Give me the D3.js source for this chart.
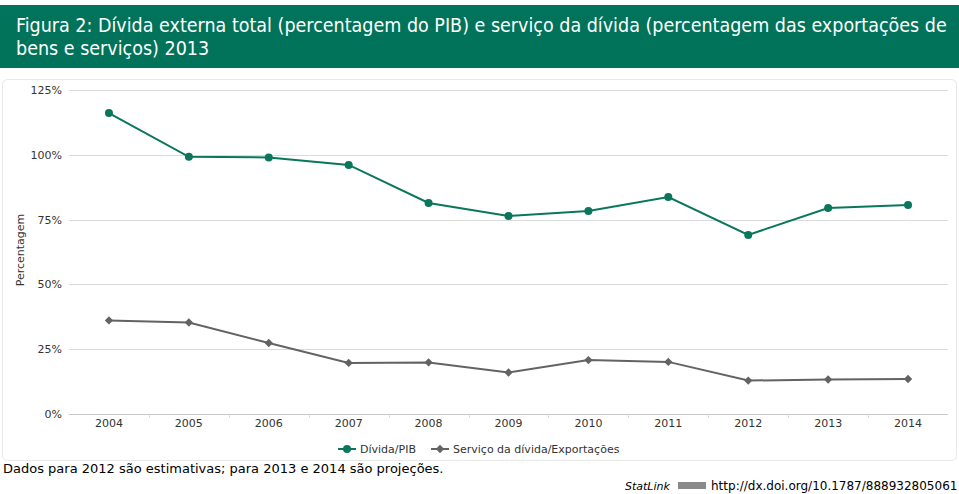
<!DOCTYPE html>
<html>
  <head>
    <meta charset="utf-8">
    <title>Dívida externa</title>
    <script src="https://d3js.org/d3.v7.min.js"></script>
    <style>
      body{
        margin: 0;
        background: #fff;
      }
      svg text{
        font-family: "DejaVu Sans", sans-serif;
      }
    </style>
  </head>
  <body>
    <div id="container"></div>
    <script>

      // DATA
      const years = ["2004", "2005", "2006", "2007", "2008", "2009", "2010", "2011", "2012", "2013", "2014"];
      const dividaPib = [116.1, 99.2, 99.0, 96.1, 81.4, 76.4, 78.3, 83.7, 69.1, 79.5, 80.6];
      const servicoExport = [36.1, 35.3, 27.4, 19.7, 19.9, 16.0, 20.8, 20.1, 12.9, 13.3, 13.5];
      const yTicks = [0, 25, 50, 75, 100, 125];
      const seriesNames = ["Dívida/PIB", "Serviço da dívida/Exportações"];

      const green = "#0a765c", grey = "#636363";

      const W = 959, H = 494;
      const svg = d3.select("#container")
        .append("svg")
        .attr("width", W)
        .attr("height", H);

      // HEADER
      svg.append("rect")
        .attr("x", 0).attr("y", 5)
        .attr("width", W).attr("height", 63)
        .attr("fill", "#00735a");
      const title = svg.append("text")
        .attr("x", 16).attr("y", 32)
        .attr("fill", "#fff")
        .style("font-family", "'DejaVu Sans Condensed', sans-serif")
        .style("font-size", "19.5px");
      title.append("tspan").attr("x", 16).text("Figura 2: Dívida externa total (percentagem do PIB) e serviço da dívida (percentagem das exportações de");
      title.append("tspan").attr("x", 16).attr("dy", 23).text("bens e serviços) 2013");

      // CHART FRAME
      svg.append("rect")
        .attr("x", 2.5).attr("y", 79.5)
        .attr("width", 954).attr("height", 381)
        .attr("rx", 5)
        .attr("fill", "none")
        .attr("stroke", "#e8e8e8");

      // SCALES
      const x = d3.scaleBand().domain(years).range([69, 948]);
      const y = d3.scaleLinear().domain([0, 125]).range([414, 90]);
      const cx = d => x(d) + x.bandwidth() / 2;

      // GRID + Y LABELS
      const g = svg.append("g");
      g.selectAll(".grid")
        .data(yTicks)
        .enter()
        .append("line")
        .attr("x1", 69).attr("x2", 948)
        .attr("y1", d => Math.round(y(d)) + 0.5)
        .attr("y2", d => Math.round(y(d)) + 0.5)
        .attr("stroke", d => d === 0 ? "#c8c8c8" : "#dadada");
      g.selectAll(".ylab")
        .data(yTicks)
        .enter()
        .append("text")
        .attr("x", 62)
        .attr("y", d => y(d) + 4)
        .attr("text-anchor", "end")
        .attr("fill", "#333")
        .style("font-size", "11px")
        .text(d => d + "%");

      svg.append("text")
        .attr("transform", "translate(24,250) rotate(-90)")
        .attr("text-anchor", "middle")
        .attr("fill", "#333")
        .style("font-size", "11px")
        .text("Percentagem");

      // X AXIS
      const xAxis = svg.append("g")
        .attr("transform", "translate(0,414)")
        .call(d3.axisBottom(x).tickSize(0).tickPadding(5));
      xAxis.select(".domain").remove();
      xAxis.selectAll("text")
        .attr("fill", "#333")
        .style("font-size", "11px")
        .style("font-family", "'DejaVu Sans', sans-serif");
      xAxis.selectAll(".sep")
        .data(years.slice(1))
        .enter()
        .append("line")
        .attr("x1", d => Math.round(x(d)) + 0.5)
        .attr("x2", d => Math.round(x(d)) + 0.5)
        .attr("y1", 0).attr("y2", 4)
        .attr("stroke", "#dcdcdc");

      // LINES
      const line = d3.line()
        .x((d, i) => cx(years[i]))
        .y(d => y(d));

      svg.append("path")
        .datum(dividaPib)
        .attr("d", line)
        .attr("fill", "none")
        .attr("stroke", green)
        .attr("stroke-width", 2);
      svg.selectAll(".dot")
        .data(dividaPib)
        .enter()
        .append("circle")
        .attr("cx", (d, i) => cx(years[i]))
        .attr("cy", d => y(d))
        .attr("r", 4)
        .attr("fill", green);

      svg.append("path")
        .datum(servicoExport)
        .attr("d", line)
        .attr("fill", "none")
        .attr("stroke", grey)
        .attr("stroke-width", 2);
      svg.selectAll(".dia")
        .data(servicoExport)
        .enter()
        .append("path")
        .attr("d", d3.symbol().type(d3.symbolDiamond2).size(44))
        .attr("transform", (d, i) => "translate(" + cx(years[i]) + "," + y(d) + ")")
        .attr("fill", grey);

      // LEGEND
      const legend = svg.append("g").attr("transform", "translate(0,449)");
      const items = [
        { name: seriesNames[0], color: green, x: 338, type: "circle" },
        { name: seriesNames[1], color: grey, x: 431, type: "diamond" }
      ];
      items.forEach(it => {
        legend.append("line")
          .attr("x1", it.x).attr("x2", it.x + 18)
          .attr("stroke", it.color).attr("stroke-width", 2);
        if (it.type === "circle") {
          legend.append("circle").attr("cx", it.x + 9).attr("r", 4).attr("fill", it.color);
        } else {
          legend.append("path")
            .attr("d", d3.symbol().type(d3.symbolDiamond2).size(44))
            .attr("transform", "translate(" + (it.x + 9) + ",0)")
            .attr("fill", it.color);
        }
        legend.append("text")
          .attr("x", it.x + 22).attr("y", 4)
          .attr("fill", "#333")
          .style("font-size", "11px")
          .text(it.name);
      });

      // NOTES
      svg.append("text")
        .attr("x", 3).attr("y", 473)
        .attr("fill", "#000")
        .style("font-size", "13px")
        .text("Dados para 2012 são estimativas; para 2013 e 2014 são projeções.");

      svg.append("text")
        .attr("x", 625).attr("y", 490)
        .attr("fill", "#000")
        .style("font-size", "11px")
        .style("font-style", "italic")
        .text("StatLink");
      svg.append("rect")
        .attr("x", 678).attr("y", 482)
        .attr("width", 28).attr("height", 7)
        .attr("fill", "#8a8a8a");
      svg.append("text")
        .attr("x", 711).attr("y", 490)
        .attr("fill", "#000")
        .style("font-size", "12px")
        .text("http://dx.doi.org/10.1787/888932805061");

    </script>
  </body>
</html>
